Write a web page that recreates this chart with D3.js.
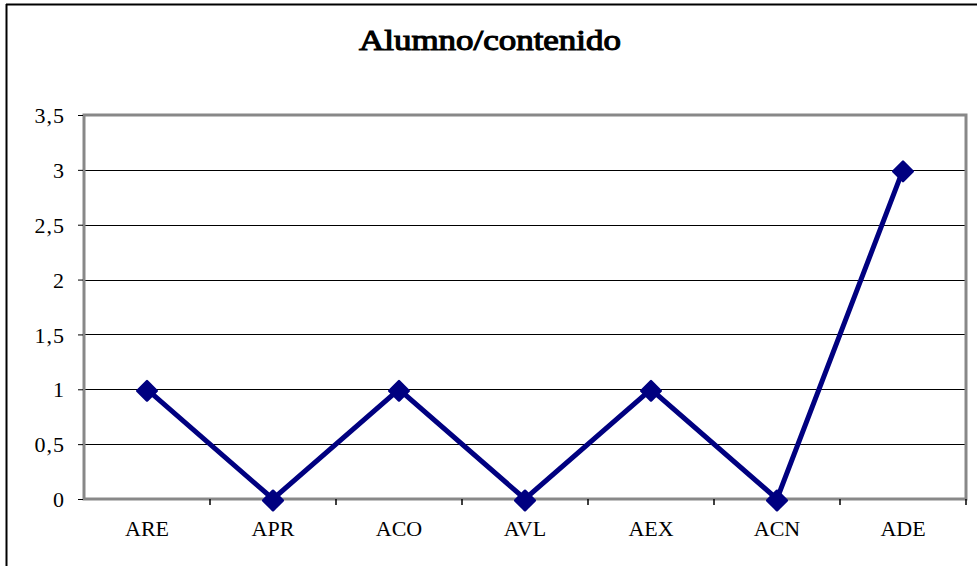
<!DOCTYPE html>
<html><head><meta charset="utf-8">
<script src="https://cdn.jsdelivr.net/npm/d3@7"></script>
<style>body{margin:0;background:#fff}svg{display:block}
text{font-family:"Liberation Serif","DejaVu Serif","Times New Roman",serif !important;fill:#000}</style>
</head><body>
<script>
const categories = ["ARE","APR","ACO","AVL","AEX","ACN","ADE"];
const values = [1,0,1,0,1,0,3];
const yTicks = [0,0.5,1,1.5,2,2.5,3,3.5];
const title = "Alumno/contenido";

const W=977,H=566;
const m={left:84,right:966,top:115,bottom:499};
const svg=d3.select("body").append("svg").attr("width",W).attr("height",H);
svg.append("rect").attr("width",W).attr("height",H).attr("fill","#fff");
svg.append("line").attr("x1",6.5).attr("x2",6.5).attr("y1",4).attr("y2",H).attr("stroke","#000").attr("stroke-width",2);
svg.append("line").attr("x1",6).attr("x2",W).attr("y1",4.5).attr("y2",4.5).attr("stroke","#000").attr("stroke-width",2);

const x=d3.scaleBand().domain(categories).range([m.left,m.right]);
const y=d3.scaleLinear().domain([0,3.5]).range([m.bottom,m.top]);
const fmt=d=>String(d).replace(".",",");

svg.append("g").selectAll("line").data(yTicks.filter(d=>d>0&&d<3.5)).join("line")
 .attr("x1",m.left).attr("x2",m.right).attr("y1",d=>Math.round(y(d))+0.5).attr("y2",d=>Math.round(y(d))+0.5)
 .attr("stroke","#000").attr("stroke-width",1);
svg.append("rect").attr("x",m.left).attr("y",m.top).attr("width",m.right-m.left).attr("height",m.bottom-m.top)
 .attr("fill","none").attr("stroke","#888").attr("stroke-width",3);

const ya=svg.append("g").attr("transform",`translate(${m.left-1},0)`)
 .call(d3.axisLeft(y).tickValues(yTicks).tickFormat(fmt).tickSize(5).tickSizeOuter(0));
ya.attr("font-family",null).attr("font-size",null);
ya.select(".domain").remove();
ya.selectAll("text").style("font-size","22px").style("letter-spacing","1px").attr("x",-18).attr("dy","0.35em");
ya.selectAll("line").attr("stroke","#000");

const xa=svg.append("g").attr("transform",`translate(0,${m.bottom+1})`)
 .call(d3.axisBottom(x).tickSize(0).tickSizeOuter(0));
xa.attr("font-family",null).attr("font-size",null);
xa.select(".domain").remove();
xa.selectAll("text").style("font-size","22px").attr("y",20).attr("dy","0.71em");
const bounds=categories.map(c=>x(c)).slice(1).concat([m.right]);
svg.append("g").selectAll("line").data(bounds).join("line")
 .attr("x1",d=>d).attr("x2",d=>d).attr("y1",m.bottom).attr("y2",m.bottom+6).attr("stroke","#000").attr("stroke-width",1.5);

const cx=c=>x(c)+x.bandwidth()/2;
svg.append("path").datum(values).attr("fill","none").attr("stroke","#000080").attr("stroke-width",5)
 .attr("d",d3.line().x((d,i)=>cx(categories[i])).y(d=>y(d)));
svg.append("g").selectAll("path").data(values).join("path")
 .attr("transform",(d,i)=>`translate(${cx(categories[i])},${y(d)+1.5}) rotate(45)`)
 .attr("d",d3.symbol(d3.symbolSquare,190)()).attr("fill","#000080").attr("stroke","#000080").attr("stroke-width",2.5).attr("stroke-linejoin","round");

svg.append("text").attr("x",490).attr("y",50).attr("text-anchor","middle")
 .style("font-weight","normal").style("font-size","29px")
 .attr("stroke","#000").attr("stroke-width",1.1)
 .attr("textLength",262).attr("lengthAdjust","spacingAndGlyphs").text(title);
</script>
</body></html>
